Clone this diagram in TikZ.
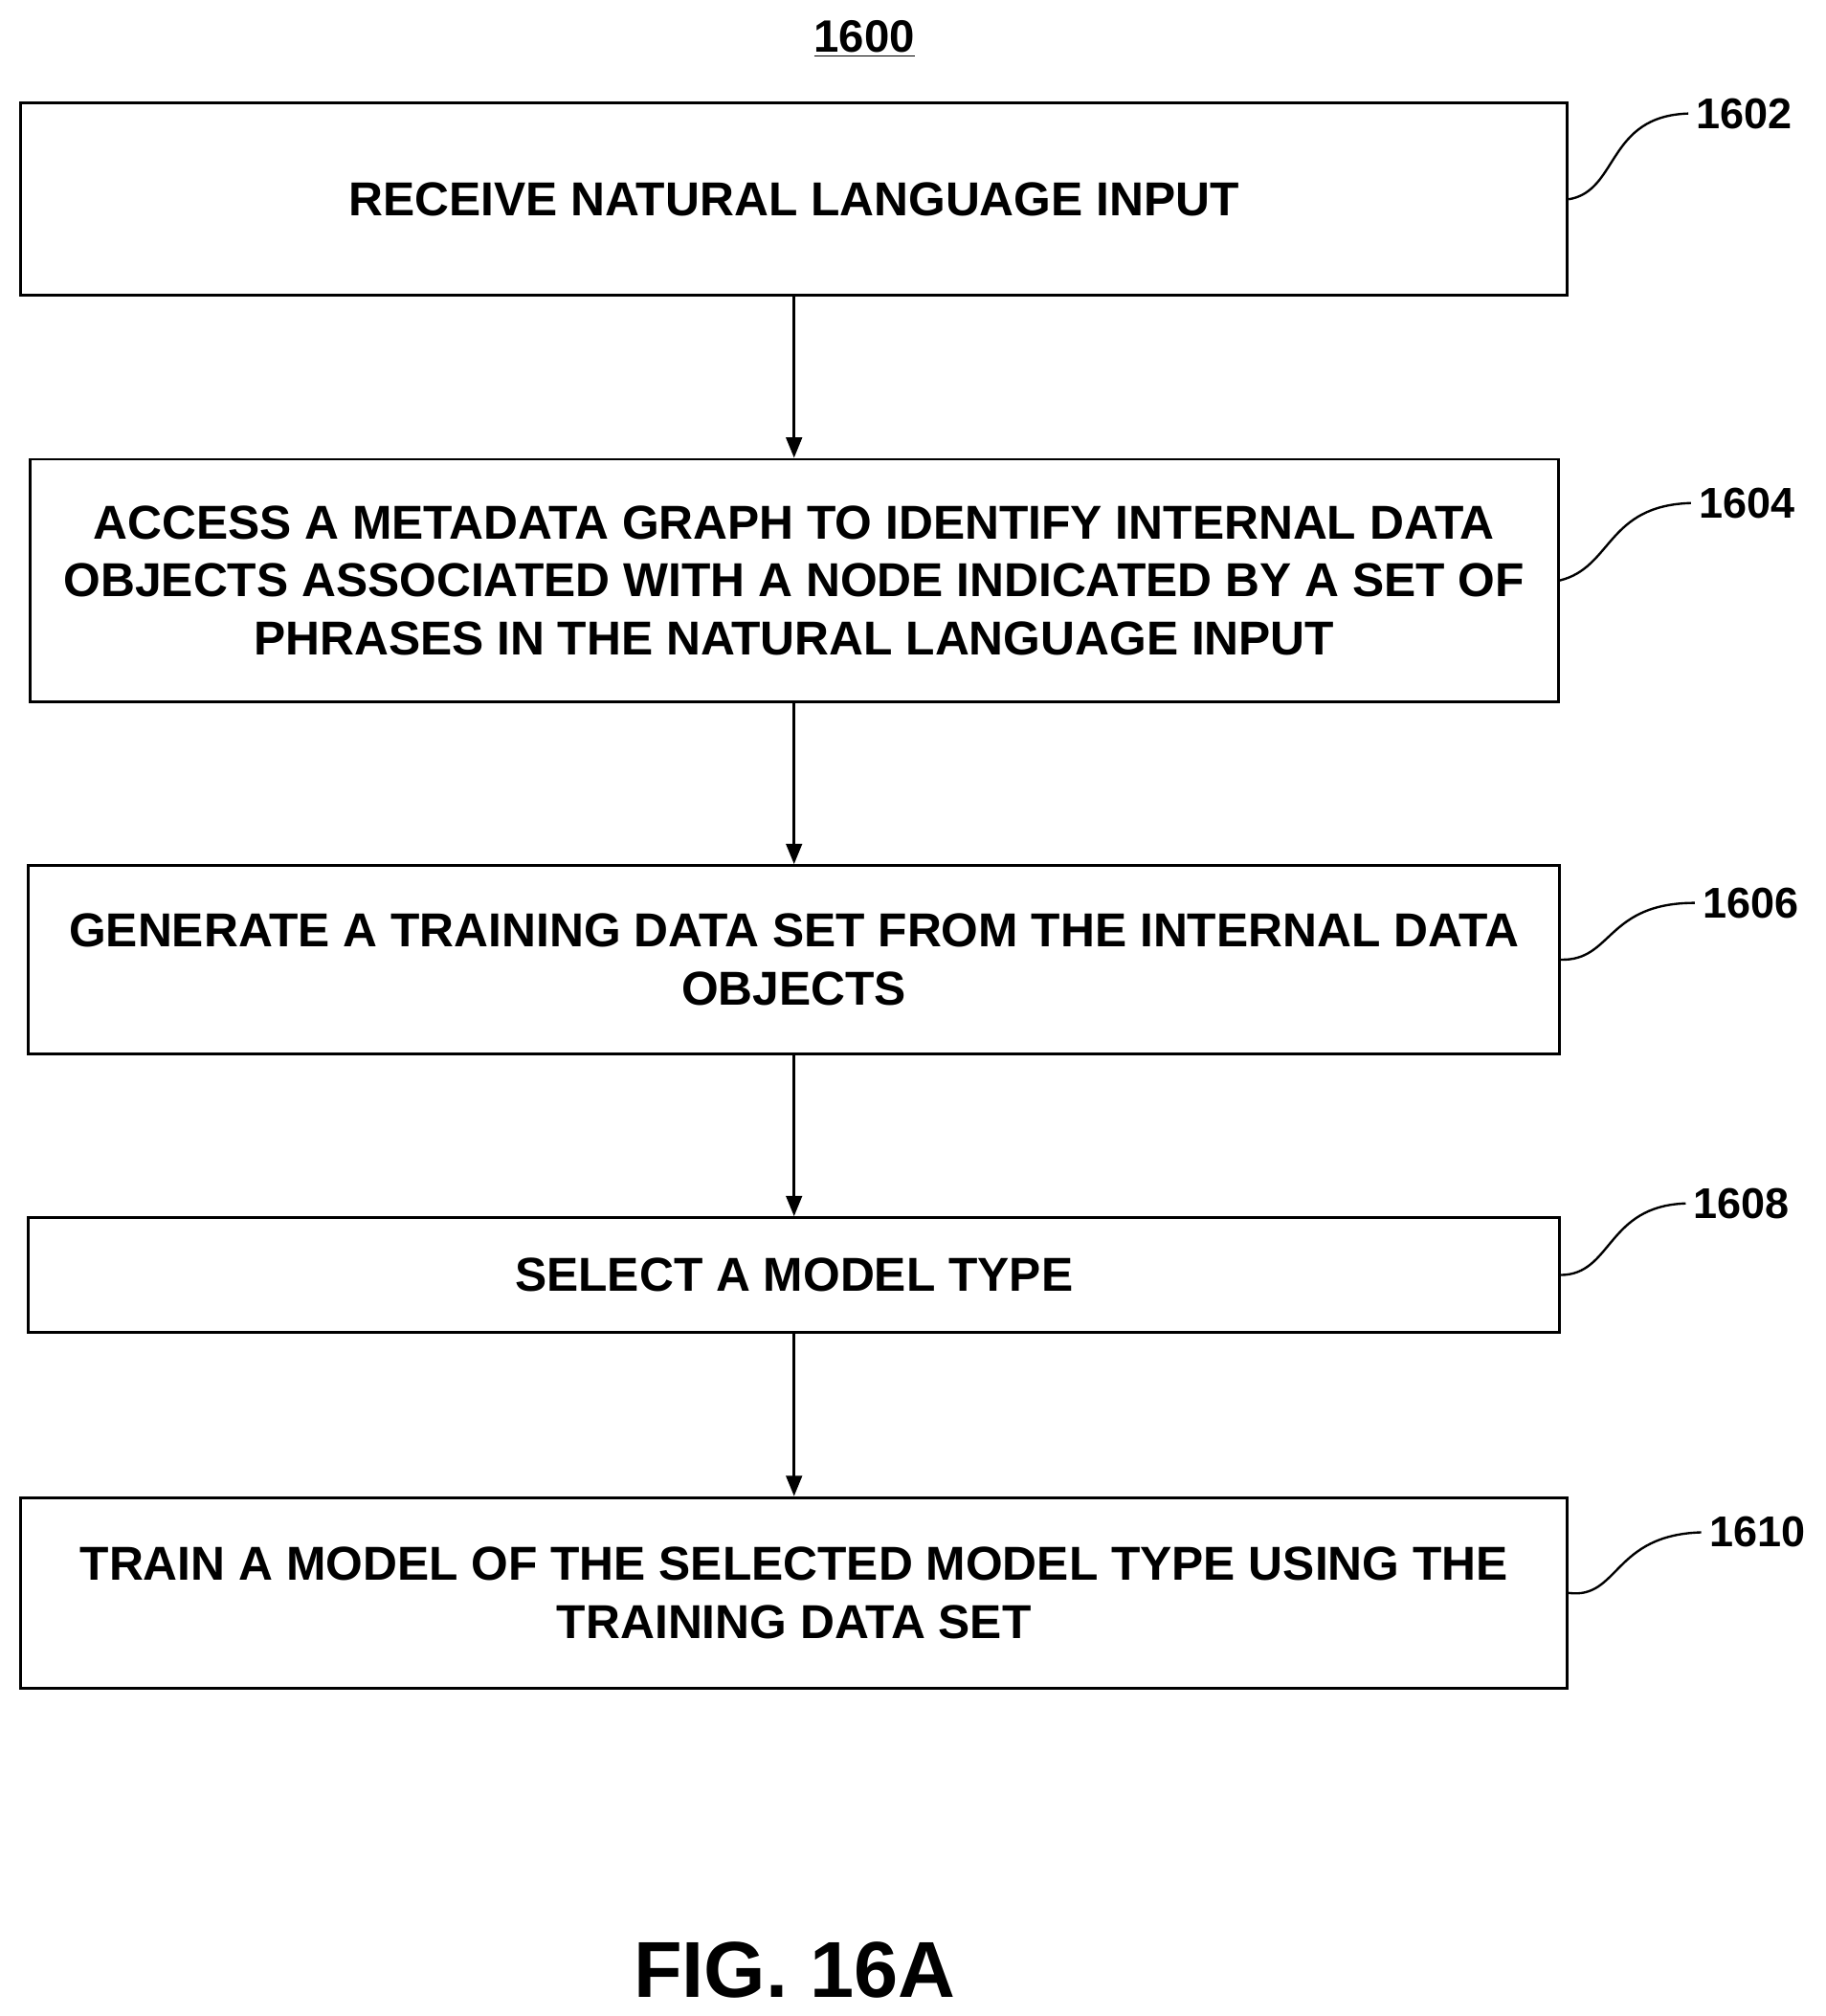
\documentclass[tikz,border=0pt]{standalone}
\usepackage{fontspec}
\setmainfont{Liberation Sans}
\usetikzlibrary{arrows.meta}
\begin{document}
\begin{tikzpicture}[x=0.02cm,y=-0.02cm,>/.tip={Triangle[length=9pt,width=7pt]},
	stepbox/.style={draw,line width=1.2pt,inner sep=0pt,align=center,font=\bfseries\fontsize{21}{25.5}\selectfont},
	ref/.style={font=\bfseries\fontsize{19}{22}\selectfont},
	lead/.style={line width=1pt}]
	\useasboundingbox (0,0) rectangle (1415,1563);
	\node[font=\bfseries\fontsize{20}{24}\selectfont] (title) at (670,30) {\underline{1600}};
	\node (s1602) [stepbox,minimum width=23.98cm,minimum height=2.98cm] at (615.5,154.5) {RECEIVE NATURAL LANGUAGE INPUT};
	\node (s1604) [stepbox,minimum width=23.7cm,minimum height=3.76cm] at (615.5,450) {ACCESS A METADATA GRAPH TO IDENTIFY INTERNAL DATA\\OBJECTS ASSOCIATED WITH A NODE INDICATED BY A SET OF\\PHRASES IN THE NATURAL LANGUAGE INPUT};
	\node (s1606) [stepbox,minimum width=23.74cm,minimum height=2.92cm] at (615.5,744) {GENERATE A TRAINING DATA SET FROM THE INTERNAL DATA\\OBJECTS};
	\node (s1608) [stepbox,minimum width=23.74cm,minimum height=1.78cm] at (615.5,988.5) {SELECT A MODEL TYPE};
	\node (s1610) [stepbox,minimum width=23.98cm,minimum height=2.96cm] at (615.5,1235) {TRAIN A MODEL OF THE SELECTED MODEL TYPE USING THE\\TRAINING DATA SET};
	\draw[->,line width=1.2pt] (s1602) -- (s1604);
	\draw[->,line width=1.2pt] (s1604) -- (s1606);
	\draw[->,line width=1.2pt] (s1606) -- (s1608);
	\draw[->,line width=1.2pt] (s1608) -- (s1610);
	\node[ref] (r1602) at (1352,88) {1602};
	\node[ref] (r1604) at (1354,390) {1604};
	\node[ref] (r1606) at (1357,700) {1606};
	\node[ref] (r1608) at (1350,933) {1608};
	\node[ref] (r1610) at (1362,1188) {1610};
	\draw[lead] (s1602.east) .. controls (1255,148) and (1245,90) .. (r1602.west);
	\draw[lead] (s1604.east) .. controls (1250,440) and (1245,392) .. (r1604.west);
	\draw[lead] (s1606.east) .. controls (1250,745) and (1245,700) .. (r1606.west);
	\draw[lead] (s1608.east) .. controls (1250,988) and (1245,935) .. (r1608.west);
	\draw[lead] (s1610.east) .. controls (1255,1240) and (1250,1190) .. (r1610.west);
	\node[font=\bfseries\fontsize{35}{40}\selectfont] (fig) at (616,1527) {FIG. 16A};
\end{tikzpicture}
\end{document}
